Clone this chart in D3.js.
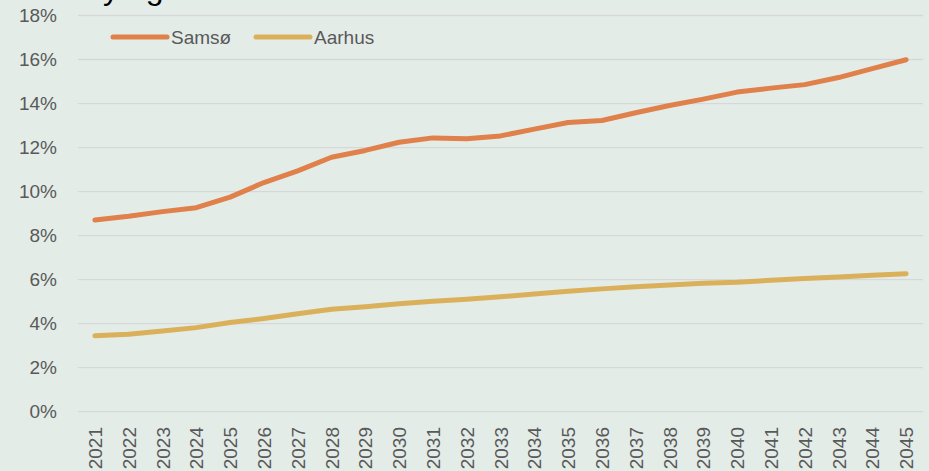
<!DOCTYPE html>
<html>
<head>
<meta charset="utf-8">
<script src="https://cdn.jsdelivr.net/npm/d3@7"></script>
<style>
  body { margin: 0; background: #e4ece8; }
  svg { display: block; font-family: "Liberation Sans", Arial, sans-serif; }
</style>
</head>
<body>
<svg id="chart" width="929" height="471"></svg>
<script>
var years = [2021, 2022, 2023, 2024, 2025, 2026, 2027, 2028, 2029, 2030, 2031, 2032, 2033,
             2034, 2035, 2036, 2037, 2038, 2039, 2040, 2041, 2042, 2043, 2044, 2045];
var samsoe = [8.71, 8.88, 9.09, 9.27, 9.75, 10.41, 10.94, 11.56, 11.87, 12.24, 12.44, 12.40, 12.53,
              12.84, 13.14, 13.23, 13.58, 13.91, 14.20, 14.52, 14.70, 14.86, 15.18, 15.59, 15.99];
var aarhus = [3.45, 3.52, 3.67, 3.82, 4.05, 4.23, 4.45, 4.65, 4.77, 4.90, 5.02, 5.11, 5.22,
              5.35, 5.47, 5.58, 5.68, 5.76, 5.84, 5.88, 5.97, 6.05, 6.12, 6.20, 6.27];
var yTicks = [0, 2, 4, 6, 8, 10, 12, 14, 16, 18];
var seriesNames = ["Samsø", "Aarhus"];
var seriesColors = ["#e0804a", "#dab15a"];

var width = 929, height = 471;
var svg = d3.select("#chart");

svg.append("rect").attr("width", width).attr("height", height).attr("fill", "#e4ece8");

var x = d3.scalePoint().domain(years).range([78, 923]).padding(0.5);
var y = d3.scaleLinear().domain([0, 18]).range([411.7, 15.5]);

// title, mostly cut off at the top of the picture
var title = svg.append("text")
    .attr("y", -1)
    .attr("font-size", 32)
    .attr("fill", "#000")
    .text("Andel i by og land");
var yPos = title.node().getStartPositionOfChar(title.text().indexOf("y")).x;
title.attr("x", 103 - yPos);

// gridlines
svg.append("g").selectAll("line").data(yTicks).enter().append("line")
    .attr("x1", 78).attr("x2", 923)
    .attr("y1", function(d){ return y(d); })
    .attr("y2", function(d){ return y(d); })
    .attr("stroke", "#d6d8d7")
    .attr("stroke-width", 1.3);

// y axis labels
var yAxis = d3.axisLeft(y).tickValues(yTicks).tickSize(0).tickPadding(0)
    .tickFormat(function(d){ return d + "%"; });
svg.append("g").attr("transform", "translate(57,0)").call(yAxis)
    .call(function(g){ g.select(".domain").remove(); })
    .selectAll("text")
    .attr("font-size", 19)
    .attr("font-family", "Liberation Sans, Arial, sans-serif")
    .attr("fill", "#595959");

// x axis labels, rotated
var xAxis = d3.axisBottom(x).tickSize(0).tickPadding(0);
svg.append("g").attr("transform", "translate(0,427)").call(xAxis)
    .call(function(g){ g.select(".domain").remove(); })
    .selectAll("text")
    .attr("font-size", 19)
    .attr("font-family", "Liberation Sans, Arial, sans-serif")
    .attr("fill", "#595959")
    .attr("text-anchor", "end")
    .attr("dy", null)
    .attr("y", 0)
    .attr("x", 0)
    .attr("dominant-baseline", "central")
    .attr("transform", "rotate(-90)");

// lines
var line = d3.line()
    .x(function(d, i){ return x(years[i]); })
    .y(function(d){ return y(d); });

[samsoe, aarhus].forEach(function(values, i){
    svg.append("path")
        .datum(values)
        .attr("d", line)
        .attr("fill", "none")
        .attr("stroke", seriesColors[i])
        .attr("stroke-width", 5)
        .attr("stroke-linecap", "round")
        .attr("stroke-linejoin", "round");
});

// legend
var legendX = [113, 256];
var legend = svg.append("g").selectAll("g").data(seriesNames).enter().append("g")
    .attr("transform", function(d, i){ return "translate(" + legendX[i] + ",37)"; });
legend.append("line")
    .attr("x1", 0).attr("x2", 54)
    .attr("stroke", function(d, i){ return seriesColors[i]; })
    .attr("stroke-width", 5)
    .attr("stroke-linecap", "round");
legend.append("text")
    .attr("x", 58).attr("y", 7)
    .attr("font-size", 19)
    .attr("fill", "#595959")
    .text(function(d){ return d; });
</script>
</body>
</html>
